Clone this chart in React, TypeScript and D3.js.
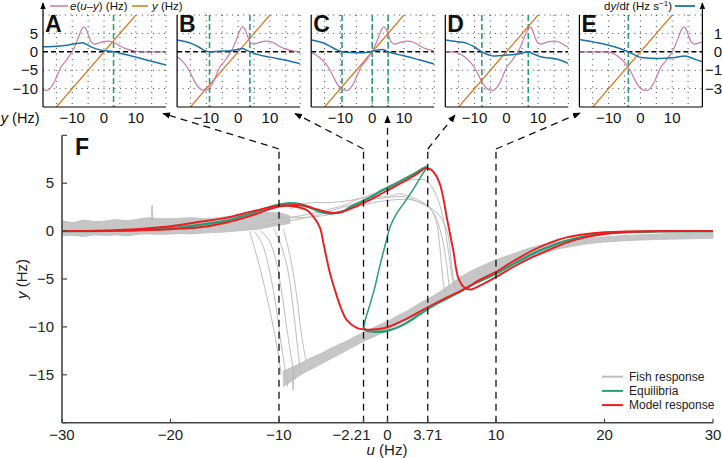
import React from 'react';
import * as d3 from 'd3';

const FONT = "'Liberation Sans', Arial, Helvetica, sans-serif";

// ---------------- Main panel F data ----------------
const mainXTicks = [-30, -20, -10, -2.21, 0, 3.71, 10, 20, 30];
const mainXTickLabels = ['−30', '−20', '−10', '−2.21', '0', '3.71', '10', '20', '30'];
const mainYTicks = [10, 5, 0, -5, -10, -15, -20];
const mainYTickLabels = ['', '5', '0', '−5', '−10', '−15', ''];

const equilibriaUpper: [number, number][] = [
  [-30, 0], [-25, 0.05], [-20, 0.3], [-17, 0.7], [-15, 1.05], [-12.7, 1.8], [-11, 2.45], [-10, 2.75],
  [-9, 2.9], [-8, 2.8], [-7, 2.4], [-6.2, 2.0], [-5, 1.85], [-4, 2.1], [-3.45, 2.5], [-2, 3.3],
  [-0.4, 4.3], [1, 5.1], [2.5, 6.0], [3.4, 6.6], [3.71, 6.75],
];
const equilibriaMiddle: [number, number][] = [
  [3.71, 6.75], [3.2, 5.9], [2.4, 4.4], [1.5, 2.9], [0.85, 1.85], [0.3, 0.6], [-0.2, -1.4],
  [-0.7, -3.6], [-1.2, -6.0], [-1.6, -7.6], [-2.0, -9.1], [-2.21, -10.0],
];
const equilibriaLower: [number, number][] = [
  [-2.21, -10.0], [-2.0, -10.35], [-1.2, -10.5], [-0.2, -10.45], [1.5, -9.75], [3.6, -8.2], [5, -7.3],
  [6.7, -6.3], [8, -5.5], [9.9, -4.5], [11.5, -3.5], [13.4, -2.35], [15, -1.6], [16.5, -1.0],
  [18, -0.6], [19.6, -0.3], [21.7, -0.12], [25, -0.03], [30, 0],
];
const modelForward: [number, number][] = [
  [-30, 0], [-25, 0.02], [-22, 0.1], [-20, 0.2], [-17.3, 0.4], [-15, 0.85], [-12.7, 1.57], [-11, 2.25],
  [-10, 2.55], [-9, 2.7], [-8, 2.7], [-7, 2.45], [-6, 2.1], [-5, 1.9], [-4.4, 1.95], [-3.5, 2.3],
  [-2, 3.05], [-0.4, 4.0], [1, 4.85], [2.5, 5.8], [3.5, 6.55], [3.9, 6.5], [4.3, 6.1], [4.8, 5.0],
  [5.15, 3.4], [5.45, 1.5], [6.06, -2.0], [6.5, -4.8], [7.0, -5.8], [7.6, -6.1], [8.5, -5.7],
  [10, -4.8], [11.5, -3.8], [13.4, -2.7], [15, -1.9], [16.5, -1.2], [18, -0.7], [20, -0.3],
  [22, -0.1], [25, -0.02], [30, 0],
];
const modelBackward: [number, number][] = [
  [-30, 0], [-25, 0.1], [-22, 0.3], [-20, 0.5], [-17.3, 0.97], [-15, 1.35], [-12.7, 2.0], [-11, 2.45],
  [-10, 2.65], [-8.7, 2.6], [-7.45, 2.2], [-6.7, 1.3], [-6.2, 0.28], [-5.9, -1.3], [-5.3, -4.4],
  [-4.75, -6.5], [-4.3, -8.0], [-3.75, -9.3], [-2.84, -10.1], [-2.07, -10.27], [-1, -10.25],
  [-0.08, -10.06], [1.5, -9.3], [3.6, -8.0], [5, -7.2], [7.0, -6.1], [8.5, -5.1], [10, -4.25],
  [11.5, -3.2], [13.4, -2.0], [15, -1.2], [16.5, -0.66], [18, -0.35], [20, -0.12], [22, -0.03],
  [25, 0], [30, 0],
];
// fish response: dense bands [u, low, high]
const fishBandLeft: [number, number, number][] = [
  [-30, -0.5, 1.1], [-29, -0.45, 0.9], [-28, -0.55, 1.15], [-27, -0.4, 1.0], [-26, -0.45, 1.05],
  [-25, -0.4, 1.2], [-24, -0.5, 1.1], [-23, -0.35, 1.25], [-22, -0.3, 1.4], [-21, -0.35, 1.3],
  [-20, -0.3, 1.3], [-19, -0.25, 1.35], [-18, -0.3, 1.4], [-17, -0.2, 1.3], [-16, -0.15, 1.35],
  [-15, -0.1, 1.5], [-14, 0.0, 1.55], [-13, 0.1, 1.7], [-12, 0.2, 1.85], [-11, 0.4, 1.95],
  [-10, 0.6, 1.9], [-9, 0.8, 1.6],
];
const fishBandRight: [number, number, number][] = [
  [-9.6, -16.2, -14.6], [-9, -15.8, -14.3], [-8, -15.0, -13.8], [-7, -14.4, -13.2], [-6, -13.8, -12.7],
  [-5, -13.2, -12.1], [-4, -12.6, -11.6], [-3, -12.0, -11.0], [-2, -11.4, -10.5], [-1, -10.9, -9.9],
  [0, -10.3, -9.4], [1, -9.7, -8.8], [2, -9.1, -8.2], [3, -8.5, -7.5], [4, -7.9, -6.9], [5, -7.2, -6.2],
  [6, -6.6, -5.4], [7, -6.0, -4.6], [8, -5.3, -4.0], [9, -4.8, -3.5], [10, -4.3, -3.0], [11, -3.8, -2.6],
  [12, -3.3, -2.2], [13, -2.9, -1.8], [14, -2.5, -1.5], [15, -2.1, -1.25], [16, -1.8, -1.05],
  [17, -1.6, -0.9], [18, -1.4, -0.8], [19, -1.25, -0.7], [20, -1.15, -0.6], [22, -1.0, -0.45],
  [24, -0.9, -0.35], [26, -0.85, -0.25], [28, -0.8, -0.2], [30, -0.75, -0.15],
];
// individual fish traces
const fishTraces: [number, number][][] = [
  [[-11.5, 0.5], [-10, 0.9], [-8.7, 1.15], [-7, 1.5], [-5, 2.2], [-3.5, 2.7], [-2, 3.2], [0, 3.5], [1.5, 3.6], [2.7, 3.1], [3.9, 2.4], [4.5, 1.0], [4.85, -2.0], [5.1, -5.0], [5.3, -6.3]],
  [[-11.5, 1.0], [-10, 1.3], [-8, 1.6], [-6, 2.1], [-4, 2.7], [-2.5, 3.4], [0.2, 3.65], [1.15, 3.9], [2.5, 3.4], [3.5, 2.8], [4.3, 1.8], [5.0, -0.5], [5.45, -3.5], [5.7, -6.0]],
  [[-10.5, 1.5], [-8.7, 1.4], [-6, 1.6], [-4, 2.1], [-2, 2.8], [0, 3.2], [2, 3.3], [3, 3.0], [4, 2.4], [4.8, 1.6], [5.5, 0.0], [5.9, -3.5], [6.2, -6.0]],
  [[-9, 2.3], [-7.45, 2.9], [-5, 3.0], [-3, 3.3], [-1, 4.0], [1, 4.9], [2, 5.3], [3.5, 5.3], [4.3, 4.2], [5.0, 2.0], [5.6, -2.0], [6.0, -5.0], [6.4, -6.3]],
  [[-8.5, -15.5], [-8.9, -13], [-9.3, -10], [-9.8, -6], [-10.3, -3], [-10.9, -1], [-11.8, 0.2]],
  [[-9.2, -16.3], [-9.5, -14], [-9.9, -11], [-10.4, -7], [-11, -3.5], [-11.6, -1.2], [-12.3, 0]],
  [[-8.0, -14.8], [-8.3, -12], [-8.7, -8], [-9.2, -4], [-9.8, -1.5], [-10.5, 0.3]],
  [[-9.8, -15.0], [-10.2, -12], [-10.8, -8.5], [-11.5, -5], [-12.2, -2], [-12.7, 0]],
  [[-7.5, -13.6], [-7.9, -11], [-8.4, -6.5], [-9.0, -2.5], [-9.6, 0.2]],
  [[-8.75, -14.5], [-8.7, -16.6], [-8.65, -14.5]],
  [[-21.75, 1.0], [-21.7, 2.7], [-21.65, 1.0]],
];
const legendItems = ['Fish response', 'Equilibria', 'Model response'];

// ---------------- Inset panels A–E data ----------------
const panelLetters = ['A', 'B', 'C', 'D', 'E'];
const panelInputs = [-10, -2.21, 0, 3.71, 10];
// error function e(d), d = u − y
const errorDiff = [-31, -22, -20, -17, -15, -13, -11, -9.5, -8, -7, -6, -5.2, -4.4, -3.7, -3.0, -2.2, -1.2, 0, 1, 2, 3.6, 5, 6.5, 8, 9.5, 11, 12, 13, 14, 15, 17, 19, 21, 31];
const errorValue = [0, 0, 0.15, 0.8, 1.6, 2.6, 2.9, 2.7, 2.3, 2.1, 2.6, 4.2, 6.1, 6.8, 6.2, 4.5, 2.3, 0, -1.2, -2.5, -4.2, -7.0, -9.5, -10.5, -10.2, -8.8, -7.2, -5.4, -4.0, -2.9, -1.3, -0.3, 0, 0];
const panelEquilibria = [[3.0], [-9.0, 3.7], [-9.5, 0, 5.0], [-7.7, 6.9], [-3.8]];
const dydtA: [number, number][] = [[-19.2, 0.27], [-15, 0.3], [-11.5, 0.36], [-8.5, 0.45], [-6.7, 0.49], [-5.5, 0.4], [-4.1, 0.27], [-0.9, 0.09], [3.0, 0], [6, -0.12], [9.6, -0.27], [14, -0.47], [19.5, -0.72]];
const dydtB: [number, number][] = [[-19.2, 0.64], [-15, 0.47], [-12, 0.22], [-10.6, 0.08], [-9, 0.0], [-6, 0.03], [-3, 0.05], [0, 0.12], [1.3, 0.18], [2.5, 0.1], [3.7, 0], [6, -0.14], [10, -0.29], [15, -0.46], [19.5, -0.65]];
const dydtC: [number, number][] = [[-19.2, 0.64], [-15, 0.45], [-12, 0.18], [-9.5, 0], [-7, -0.04], [-4, -0.05], [-1.5, -0.02], [0, 0.03], [1.5, 0.09], [3.2, 0.13], [5, 0], [8, -0.14], [11.2, -0.27], [15, -0.45], [19.5, -0.66]];
const dydtD: [number, number][] = [[-19.2, 0.64], [-15.5, 0.55], [-12.4, 0.46], [-10, 0.26], [-7.7, 0], [-5.5, -0.17], [-4, -0.23], [0.2, -0.18], [4.5, -0.09], [6.9, 0], [8.5, -0.12], [10.8, -0.27], [16.1, -0.41], [19.5, -0.63]];
const dydtE: [number, number][] = [[-19.2, 0.67], [-13.5, 0.49], [-8.2, 0.27], [-3.8, 0], [0.3, -0.31], [5.6, -0.36], [10.8, -0.31], [14, -0.23], [17.2, -0.41], [19.5, -0.54]];
const panelRates = [dydtA, dydtB, dydtC, dydtD, dydtE];
const insetXTicks = [-10, 0, 10];
const insetXTickLabels = ['−10', '0', '10'];
const insetGridX = [-15, -10, -5, 0, 5, 10, 15];
const insetYTicks = [5, 0, -5, -10];
const insetYTickLabels = ['5', '0', '−5', '−10'];
const insetGridY = [10, 5, -5, -10];
const rateTicks = [1, 0, -1, -3];
const rateTickLabels = ['1', '0', '−1', '−3'];

const C = {
  gray: '#bdbdbd',
  band: '#c6c6c6',
  green: '#2b9d76',
  red: '#ec1c1f',
  pink: '#cc79a7',
  orange: '#d9731c',
  blue: '#1a72ab',
  axis: '#444',
};

export default function App() {
  // main scales
  const x = d3.scaleLinear().domain([-30, 30]).range([62, 713]);
  const y = d3.scaleLinear().domain([-20, 10]).range([422.7, 135.3]);
  const line = d3.line<[number, number]>().x(d => x(d[0])).y(d => y(d[1])).curve(d3.curveCatmullRom.alpha(0.5));
  const area = d3.area<[number, number, number]>().x(d => x(d[0])).y0(d => y(d[1])).y1(d => y(d[2])).curve(d3.curveCatmullRom.alpha(0.5));

  // inset scales
  const insetW = 123, insetTop = 15, insetBottom = 107;
  const panelLeft = (i: number) => 43 + i * 134.1;
  const yi = d3.scaleLinear().domain([-15, 10]).range([insetBottom, insetTop]);
  const yr = d3.scaleLinear().domain([-3, -1, 0, 1]).range([yi(-10), yi(-5), yi(0), yi(5)]);

  const yBottom = y(-20);
  const joinY = 149;
  const arrowTips: [number, number][] = [[163, 113.5], [295, 113.5], [x(0), 116], [455, 115], [580, 113]];

  return (
    <svg width={722} height={458} style={{ position: 'absolute', left: 0, top: 0 }} fontFamily={FONT}>
      <defs>
        <marker id="arr" viewBox="0 0 10 10" refX="9" refY="5" markerWidth="6" markerHeight="6" orient="auto">
          <path d="M0,1 L10,5 L0,9 z" fill="#000" />
        </marker>
        {panelLetters.map((_, i) => (
          <clipPath id={`clip${i}`} key={i}>
            <rect x={panelLeft(i)} y={insetTop} width={insetW} height={insetBottom - insetTop} />
          </clipPath>
        ))}
      </defs>
      <rect width={722} height={458} fill="#fff" />

      {/* ---------- Insets ---------- */}
      {panelLetters.map((letter, i) => {
        const left = panelLeft(i);
        const xi = d3.scaleLinear().domain([-19.2, 19.5]).range([left, left + insetW]);
        const u = panelInputs[i];
        const pink: [number, number][] = errorDiff.map((d, k) => [u - d, errorValue[k]] as [number, number]).sort((a, b) => a[0] - b[0]);
        const lp = d3.line<[number, number]>().x(d => xi(d[0])).y(d => yi(d[1])).curve(d3.curveMonotoneX);
        const lr = d3.line<[number, number]>().x(d => xi(d[0])).y(d => yr(d[1])).curve(d3.curveMonotoneX);
        return (
          <g key={letter}>
            {insetGridX.map(g => (
              <line key={'gx' + g} x1={xi(g)} x2={xi(g)} y1={insetTop} y2={insetBottom} stroke="#444" strokeWidth={1} strokeDasharray="1,4.5" />
            ))}
            <line x1={left + insetW} x2={left + insetW} y1={insetTop} y2={insetBottom} stroke="#444" strokeWidth={1} strokeDasharray="1,4.5" />
            {insetGridY.map(g => (
              <line key={'gy' + g} x1={left} x2={left + insetW} y1={yi(g)} y2={yi(g)} stroke="#444" strokeWidth={1} strokeDasharray="1,4.5" />
            ))}
            <g clipPath={`url(#clip${i})`}>
              <line x1={left} x2={left + insetW} y1={yi(0)} y2={yi(0)} stroke="#000" strokeWidth={1.6} strokeDasharray="5,3" />
              {panelEquilibria[i].map(e => (
                <line key={'eq' + e} x1={xi(e)} x2={xi(e)} y1={insetTop} y2={insetBottom} stroke={C.green} strokeWidth={1.6} strokeDasharray="6,3" />
              ))}
              <line x1={xi(-15)} y1={yi(-15)} x2={xi(10)} y2={yi(10)} stroke={C.orange} strokeWidth={1.2} />
              <path d={lp(pink) || ''} fill="none" stroke={C.pink} strokeWidth={1.2} />
              <path d={lr(panelRates[i]) || ''} fill="none" stroke={C.blue} strokeWidth={1.5} />
            </g>
            <line x1={left} x2={left + insetW} y1={insetBottom} y2={insetBottom} stroke="#000" strokeWidth={1.2} />
            {i === 0 ? (
              <line x1={left} x2={left} y1={insetBottom} y2={3} stroke="#000" strokeWidth={1.2} markerEnd="url(#arr)" />
            ) : (
              <line x1={left} x2={left} y1={insetBottom} y2={insetTop} stroke="#000" strokeWidth={1.2} />
            )}
            {i === 4 && (
              <line x1={left + insetW} x2={left + insetW} y1={insetBottom} y2={3} stroke="#000" strokeWidth={1.2} markerEnd="url(#arr)" />
            )}
            {insetXTicks.map((t, k) => (
              <text key={'xt' + t} x={xi(t)} y={123} textAnchor="middle" fontSize={15} fill="#111">{insetXTickLabels[k]}</text>
            ))}
            <text x={left + 2} y={32} fontSize={23} fontWeight="bold" fill="#111">{letter}</text>
            {i === 0 && insetYTicks.map((t, k) => (
              <text key={'yt' + t} x={38} y={yi(t)} dy="0.35em" textAnchor="end" fontSize={15} fill="#111">{insetYTickLabels[k]}</text>
            ))}
            {i === 4 && rateTicks.map((t, k) => (
              <text key={'rt' + t} x={722} y={yr(t)} dy="0.35em" textAnchor="end" fontSize={15} fill="#111">{rateTickLabels[k]}</text>
            ))}
          </g>
        );
      })}
      <text x={39.5} y={123} textAnchor="end" fontSize={14.5} fill="#111"><tspan fontStyle="italic">y</tspan> (Hz)</text>

      {/* inset legends */}
      <line x1={50} x2={68} y1={6} y2={6} stroke={C.pink} strokeWidth={1.5} />
      <text x={70} y={10} fontSize={11.5} fill="#111">
        <tspan fontStyle="italic">e</tspan>(<tspan fontStyle="italic">u</tspan>–<tspan fontStyle="italic">y</tspan>) (Hz)
      </text>
      <line x1={132} x2={148} y1={6} y2={6} stroke={C.orange} strokeWidth={1.5} />
      <text x={152} y={10} fontSize={11.5} fill="#111"><tspan fontStyle="italic">y</tspan> (Hz)</text>
      <text x={672} y={10} textAnchor="end" fontSize={11.5} fill="#111">
        d<tspan fontStyle="italic">y</tspan>/d<tspan fontStyle="italic">t</tspan> (Hz s<tspan dy={-4} fontSize={8}>−1</tspan><tspan dy={4}>)</tspan>
      </text>
      <line x1={675} x2={695} y1={6} y2={6} stroke={C.blue} strokeWidth={1.8} />

      {/* ---------- Main panel F ---------- */}
      <path d={area(fishBandLeft) || ''} fill={C.band} stroke={C.gray} strokeWidth={0.8} />
      <path d={area(fishBandRight) || ''} fill={C.band} stroke={C.gray} strokeWidth={0.8} />
      {fishTraces.map((t, k) => (
        <path key={'ft' + k} d={line(t) || ''} fill="none" stroke={C.gray} strokeWidth={1} />
      ))}
      <path d={line(equilibriaUpper) || ''} fill="none" stroke={C.green} strokeWidth={2.4} />
      <path d={line(equilibriaMiddle) || ''} fill="none" stroke={C.green} strokeWidth={1.5} />
      <path d={line(equilibriaLower) || ''} fill="none" stroke={C.green} strokeWidth={2.4} />
      <path d={line(modelForward) || ''} fill="none" stroke={C.red} strokeWidth={1.9} />
      <path d={line(modelBackward) || ''} fill="none" stroke={C.red} strokeWidth={1.9} />

      {/* dashed connectors */}
      {panelInputs.map((u, i) => {
        const px = x(u);
        const tip = arrowTips[i];
        const straight = Math.abs(tip[0] - px) < 1;
        return (
          <g key={'dl' + i}>
            <line x1={px} x2={px} y1={yBottom} y2={straight ? tip[1] : joinY} stroke="#111" strokeWidth={1.3} strokeDasharray="7,5" markerEnd={straight ? 'url(#arr)' : undefined} />
            {!straight && (
              <line x1={px} y1={joinY} x2={tip[0]} y2={tip[1]} stroke="#111" strokeWidth={1.3} strokeDasharray="7,5" markerEnd="url(#arr)" />
            )}
          </g>
        );
      })}

      {/* axes */}
      <line x1={62} x2={62} y1={y(10)} y2={yBottom} stroke={C.axis} strokeWidth={1.6} />
      <line x1={62} x2={713} y1={yBottom} y2={yBottom} stroke={C.axis} strokeWidth={1.6} />
      {mainYTicks.map((t, k) => (
        <g key={'my' + t}>
          <line x1={62} x2={67} y1={y(t)} y2={y(t)} stroke={C.axis} strokeWidth={1.2} />
          {mainYTickLabels[k] && (
            <text x={54} y={y(t)} dy="0.35em" textAnchor="end" fontSize={15} fill="#222">{mainYTickLabels[k]}</text>
          )}
        </g>
      ))}
      {mainXTicks.map((t, k) => (
        <g key={'mx' + t}>
          <line x1={x(t)} x2={x(t)} y1={yBottom} y2={yBottom - 4} stroke={C.axis} strokeWidth={1.2} />
          <text x={t === -2.21 ? x(t) + 7 : x(t)} y={439.5} textAnchor={t === -2.21 ? 'end' : 'middle'} fontSize={15} fill="#222">{mainXTickLabels[k]}</text>
        </g>
      ))}
      <text transform={`translate(27,279) rotate(-90)`} textAnchor="middle" fontSize={15} fill="#222">
        <tspan fontStyle="italic">y</tspan> (Hz)
      </text>
      <text x={387} y={455} textAnchor="middle" fontSize={15} fill="#222">
        <tspan fontStyle="italic">u</tspan> (Hz)
      </text>
      <text x={75} y={155} fontSize={23} fontWeight="bold" fill="#111">F</text>

      {/* legend */}
      {legendItems.map((name, k) => {
        const ly = 376.7 + k * 14.2;
        const col = [C.gray, C.green, C.red][k];
        return (
          <g key={name}>
            <line x1={602} x2={623} y1={ly} y2={ly} stroke={col} strokeWidth={2} />
            <text x={629} y={ly} dy="0.35em" fontSize={12} fill="#222">{name}</text>
          </g>
        );
      })}
    </svg>
  );
}
